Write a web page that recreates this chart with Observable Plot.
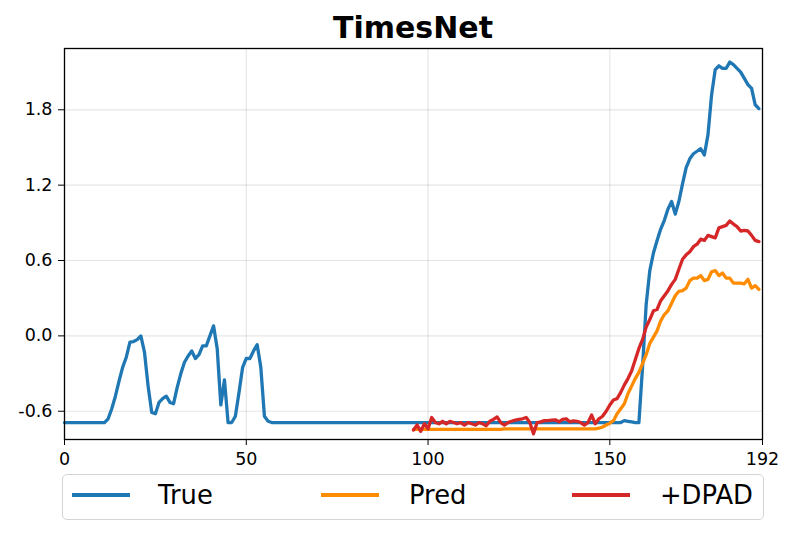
<!DOCTYPE html>
<html>
<head>
<meta charset="utf-8">
<script src="https://cdn.jsdelivr.net/npm/d3@7"></script>
<script src="https://cdn.jsdelivr.net/npm/@observablehq/plot@0.6"></script>
<style>
  body { margin: 0; background: #fff; }
  #wrap { position: relative; width: 794px; height: 535px; font-family: "DejaVu Sans", sans-serif; color: #000; }
  #chart { position: absolute; left: 0; top: 0; }
  #title { position: absolute; left: 64px; width: 698px; top: 11px; text-align: center; font-weight: bold; font-size: 30px; line-height: 34px; }
  #legend { position: absolute; left: 62px; top: 474px; width: 702px; height: 46px; box-sizing: border-box; border: 1.5px solid #d4d4d4; border-radius: 5px; background: #fff; }
  .sw { position: absolute; height: 3.5px; width: 58px; top: 18px; }
  .lab { position: absolute; font-size: 25.8px; line-height: 26px; top: 7px; white-space: nowrap; }
</style>
</head>
<body>
<div id="wrap">
  <div id="chart"></div>
  <div id="title"></div>
  <div id="legend"></div>
</div>
<script>
// ---- data ----
const chartTitle = "TimesNet";
const seriesNames = ["True", "Pred", "+DPAD"];
const seriesColors = ["#1f77b4", "#ff8c00", "#d62728"];
const xTicks = [0, 50, 100, 150, 192];
const yTicks = [-0.6, 0.0, 0.6, 1.2, 1.8];
const yTickLabels = ["-0.6", "0.0", "0.6", "1.2", "1.8"];
const predStart = 96;

// True series, x = 0..191
const trueVals = [
  -0.69, -0.69, -0.69, -0.69, -0.69, -0.69, -0.69, -0.69, -0.69, -0.69,
  -0.69, -0.69, -0.66, -0.58, -0.48, -0.36, -0.25, -0.17, -0.05, -0.045,
  -0.03, 0.0, -0.13, -0.40, -0.61, -0.62, -0.53, -0.50, -0.48, -0.53,
  -0.54, -0.41, -0.30, -0.21, -0.16, -0.12, -0.18, -0.15, -0.08, -0.08,
  0.0, 0.08, -0.10, -0.55, -0.35, -0.69, -0.69, -0.64, -0.45, -0.25,
  -0.18, -0.18, -0.12, -0.07, -0.25, -0.64, -0.68, -0.69, -0.69, -0.69,
  -0.69, -0.69, -0.69, -0.69, -0.69, -0.69, -0.69, -0.69, -0.69, -0.69,
  -0.69, -0.69, -0.69, -0.69, -0.69, -0.69, -0.69, -0.69, -0.69, -0.69,
  -0.69, -0.69, -0.69, -0.69, -0.69, -0.69, -0.69, -0.69, -0.69, -0.69,
  -0.69, -0.69, -0.69, -0.69, -0.69, -0.69, -0.69, -0.69, -0.69, -0.69,
  -0.69, -0.69, -0.69, -0.69, -0.69, -0.69, -0.69, -0.69, -0.69, -0.69,
  -0.69, -0.69, -0.69, -0.69, -0.69, -0.69, -0.69, -0.69, -0.69, -0.69,
  -0.69, -0.69, -0.69, -0.69, -0.69, -0.69, -0.69, -0.69, -0.69, -0.69,
  -0.69, -0.69, -0.69, -0.69, -0.69, -0.69, -0.69, -0.69, -0.69, -0.69,
  -0.69, -0.69, -0.69, -0.69, -0.69, -0.69, -0.69, -0.69, -0.69, -0.69,
  -0.69, -0.69, -0.69, -0.69, -0.675, -0.68, -0.685, -0.69, -0.69, -0.25,
  0.25, 0.52, 0.66, 0.76, 0.85, 0.92, 1.01, 1.07, 0.97, 1.07,
  1.21, 1.34, 1.41, 1.45, 1.47, 1.49, 1.44, 1.60, 1.92, 2.12,
  2.15, 2.13, 2.13, 2.18, 2.16, 2.13, 2.10, 2.05, 2.00, 1.97,
  1.84, 1.81
];

// Pred series, x = 96..191
const predVals = [
  -0.745, -0.745, -0.745, -0.745, -0.745, -0.745, -0.745, -0.745, -0.745, -0.745,
  -0.745, -0.745, -0.745, -0.745, -0.745, -0.745, -0.745, -0.745, -0.745, -0.745,
  -0.745, -0.745, -0.745, -0.745, -0.745, -0.74, -0.74, -0.74, -0.74, -0.74,
  -0.74, -0.74, -0.74, -0.74, -0.74, -0.74, -0.74, -0.74, -0.74, -0.74,
  -0.74, -0.74, -0.74, -0.74, -0.74, -0.74, -0.74, -0.74, -0.74, -0.74,
  -0.74, -0.735, -0.725, -0.71, -0.695, -0.675, -0.62, -0.58, -0.54, -0.46,
  -0.40, -0.34, -0.29, -0.22, -0.15, -0.06, -0.01, 0.04, 0.12, 0.17,
  0.20, 0.26, 0.32, 0.355, 0.36, 0.38, 0.44, 0.46, 0.46, 0.48,
  0.44, 0.45, 0.51, 0.52, 0.48, 0.50, 0.46, 0.46, 0.42, 0.42,
  0.42, 0.415, 0.45, 0.38, 0.40, 0.37
];

// +DPAD series, x = 96..191
const dpadVals = [
  -0.75, -0.71, -0.76, -0.70, -0.74, -0.65, -0.69, -0.70, -0.68, -0.70,
  -0.68, -0.69, -0.70, -0.69, -0.71, -0.69, -0.70, -0.71, -0.69, -0.70,
  -0.715, -0.68, -0.665, -0.645, -0.69, -0.71, -0.69, -0.68, -0.67, -0.665,
  -0.66, -0.65, -0.69, -0.78, -0.69, -0.685, -0.675, -0.675, -0.67, -0.668,
  -0.684, -0.665, -0.66, -0.684, -0.676, -0.68, -0.69, -0.71, -0.69, -0.63,
  -0.70, -0.66, -0.64, -0.60, -0.55, -0.51, -0.50, -0.45, -0.39, -0.34,
  -0.28, -0.19, -0.10, -0.03, 0.07, 0.13, 0.20, 0.21, 0.28, 0.32,
  0.36, 0.41, 0.45, 0.53, 0.61, 0.645, 0.67, 0.71, 0.73, 0.77,
  0.76, 0.80, 0.79, 0.78, 0.86, 0.87, 0.88, 0.915, 0.89, 0.87,
  0.835, 0.84, 0.835, 0.80, 0.76, 0.75
];

// ---- build table ----
const rows = [];
trueVals.forEach((v, i) => rows.push({x: i, y: v, series: seriesNames[0]}));
predVals.forEach((v, i) => rows.push({x: predStart + i, y: v, series: seriesNames[1]}));
dpadVals.forEach((v, i) => rows.push({x: predStart + i, y: v, series: seriesNames[2]}));

const gridStyle = {stroke: "#000", strokeOpacity: 0.1, strokeWidth: 1.2};

const chart = Plot.plot({
  width: 794,
  height: 470,
  marginTop: 48,
  marginBottom: 31,
  marginLeft: 64,
  marginRight: 32,
  style: {fontFamily: "DejaVu Sans, sans-serif", fontSize: "17.5px", color: "#000", background: "transparent", overflow: "visible"},
  x: {domain: [0, 192]},
  y: {domain: [-0.825, 2.288]},
  color: {domain: seriesNames, range: seriesColors},
  marks: [
    Plot.gridX(xTicks, gridStyle),
    Plot.gridY(yTicks, gridStyle),
    Plot.axisX(xTicks, {tickSize: 6, tickPadding: 7, label: null, fontSize: 17.5, tickFormat: d => String(d)}),
    Plot.axisY(yTicks, {tickSize: 6, tickPadding: 6, label: null, fontSize: 17.5,
      tickFormat: d => yTickLabels[yTicks.indexOf(d)]}),
    Plot.line(rows, {x: "x", y: "y", z: "series", stroke: "series", strokeWidth: 3.3,
      strokeLinejoin: "round", strokeLinecap: "round"}),
    Plot.frame({stroke: "#000", strokeWidth: 1.3})
  ]
});
document.getElementById("chart").appendChild(chart);
document.getElementById("title").textContent = chartTitle;

// ---- legend ----
const legend = document.getElementById("legend");
const swatchLeft = [9, 258, 509];
const labelLeft = [95, 346, 597];
seriesNames.forEach((name, i) => {
  const sw = document.createElement("div");
  sw.className = "sw";
  sw.style.left = swatchLeft[i] + "px";
  sw.style.background = seriesColors[i];
  legend.appendChild(sw);
  const lab = document.createElement("div");
  lab.className = "lab";
  lab.style.left = labelLeft[i] + "px";
  lab.textContent = name;
  legend.appendChild(lab);
});
</script>
</body>
</html>
